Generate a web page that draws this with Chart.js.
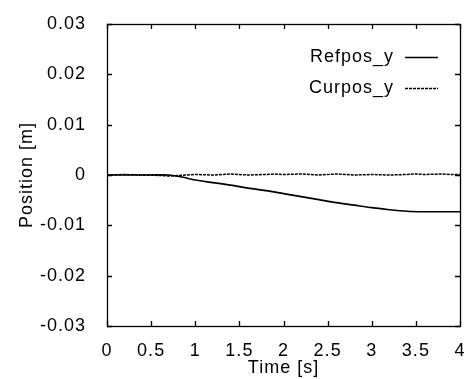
<!DOCTYPE html>
<html>
<head>
<meta charset="utf-8">
<script src="https://cdn.jsdelivr.net/npm/chart.js@4"></script>
<style>
  html, body { margin: 0; padding: 0; background: #fff; }
  canvas { display: block; }
</style>
</head>
<body>
<canvas id="line-chart" width="465" height="379"></canvas>
<script>
// data
var refTime = [0, 0.5, 0.7, 0.85, 1.0, 1.2, 1.4, 1.6, 1.8, 2.0, 2.2, 2.4, 2.6, 2.8, 3.0, 3.2, 3.4, 3.6, 3.8, 4.0];
var refPos  = [0, 0, 0, -0.0004, -0.001, -0.0015, -0.002, -0.0026, -0.0031, -0.0037, -0.0043, -0.0049, -0.0055, -0.006, -0.0065, -0.0069, -0.0072, -0.0073, -0.0073, -0.0073];

var curTime = [0, 0.2, 0.4, 0.6, 0.7, 0.8, 0.9, 1.0, 1.2, 1.4, 1.5, 1.6, 1.8, 1.9, 2.0, 2.2, 2.3, 2.4, 2.6, 2.7, 2.8, 3.0, 3.2, 3.4, 3.5, 3.6, 3.8, 3.9, 4.0];
var curPos  = [0, 0.0001, 0, -0.0001, -0.0002, -0.0001, 0, 0.0001, 0, 0.0002, 0.0001, 0, 0.0001, 0.0002, 0.0001, 0.0002, 0.0001, 0, 0.0002, 0.0001, 0, 0.0001, 0, 0.0001, 0.0002, 0.0001, 0.0002, 0.0001, 0.0001];

var xTicks = [0, 0.5, 1, 1.5, 2, 2.5, 3, 3.5, 4];
var yTicks = [-0.03, -0.02, -0.01, 0, 0.01, 0.02, 0.03];

var font = "'Liberation Sans', Arial, Helvetica, sans-serif";
var gap = '1px';

function toPoints(xs, ys) {
  return xs.map(function(x, i){ return {x: x, y: ys[i]}; });
}

// the scanned original has slightly wide lettering
var spacing = {
  id: 'spacing',
  beforeInit: function(chart){ chart.ctx.letterSpacing = gap; },
  beforeLayout: function(chart){ chart.ctx.letterSpacing = gap; },
  beforeDraw: function(chart){ chart.ctx.letterSpacing = gap; }
};

// box and inward ticks on all four sides
var frame = {
  id: 'frame',
  afterDatasetsDraw: function(chart) {
    var ctx = chart.ctx, a = chart.chartArea;
    var sx = chart.scales.x, sy = chart.scales.y;
    ctx.save();
    ctx.strokeStyle = '#000';
    ctx.lineWidth = 1.3;
    ctx.strokeRect(a.left + 0.5, a.top + 0.5, a.right - a.left, a.bottom - a.top);
    ctx.beginPath();
    xTicks.forEach(function(v){
      var px = Math.round(sx.getPixelForValue(v)) + 0.5;
      ctx.moveTo(px, a.bottom); ctx.lineTo(px, a.bottom - 5);
      ctx.moveTo(px, a.top); ctx.lineTo(px, a.top + 5);
    });
    yTicks.forEach(function(v){
      var py = Math.round(sy.getPixelForValue(v)) + 0.5;
      ctx.moveTo(a.left, py); ctx.lineTo(a.left + 5, py);
      ctx.moveTo(a.right, py); ctx.lineTo(a.right - 5, py);
    });
    ctx.stroke();
    ctx.restore();
  }
};

// gnuplot style key: label then sample line
var key = {
  id: 'key',
  afterDraw: function(chart) {
    var ctx = chart.ctx;
    ctx.save();
    ctx.letterSpacing = gap;
    ctx.font = '18px ' + font;
    ctx.fillStyle = '#000';
    ctx.textAlign = 'right';
    ctx.textBaseline = 'middle';
    chart.data.datasets.forEach(function(ds, i){
      var y = 57 + i * 31;
      ctx.fillText(ds.label, 394, y);
      ctx.beginPath();
      ctx.strokeStyle = '#000';
      ctx.lineWidth = ds.borderWidth;
      ctx.setLineDash(ds.borderDash || []);
      ctx.moveTo(405, y + 0.5); ctx.lineTo(438, y + 0.5);
      ctx.stroke();
    });
    ctx.restore();
  }
};

new Chart(document.getElementById("line-chart"), {
  type: 'line',
  data: {
    datasets: [
      {
        label: "Refpos_y",
        data: toPoints(refTime, refPos),
        borderColor: '#000',
        borderWidth: 1.7,
        pointRadius: 0,
        tension: 0.3,
        fill: false
      },
      {
        label: "Curpos_y",
        data: toPoints(curTime, curPos),
        borderColor: '#000',
        borderWidth: 1.5,
        borderDash: [3, 1],
        pointRadius: 0,
        tension: 0,
        fill: false
      }
    ]
  },
  plugins: [spacing, frame, key],
  options: {
    responsive: false,
    animation: false,
    devicePixelRatio: 1,
    layout: { padding: { top: 24, right: 5, left: 0, bottom: 0 } },
    plugins: {
      legend: { display: false },
      tooltip: { enabled: false }
    },
    scales: {
      x: {
        type: 'linear',
        min: 0, max: 4,
        afterFit: function(s){ s.height = 53; s.paddingLeft = 0; s.paddingRight = 0; },
        afterBuildTicks: function(s){ s.ticks = xTicks.map(function(v){ return {value: v}; }); },
        grid: { display: false },
        border: { display: false },
        ticks: {
          color: '#000', padding: 6, maxRotation: 0, autoSkip: false,
          font: { family: font, size: 18 },
          callback: function(v){ return String(parseFloat(v.toFixed(2))); }
        },
        title: {
          display: true, text: 'Time [s]', color: '#000',
          font: { family: font, size: 18 },
          padding: { top: 0, bottom: 0 }
        }
      },
      y: {
        min: -0.03, max: 0.03,
        afterFit: function(s){ s.width = 107; s.paddingTop = 0; s.paddingBottom = 0; },
        afterBuildTicks: function(s){ s.ticks = yTicks.map(function(v){ return {value: v}; }); },
        grid: { display: false },
        border: { display: false },
        ticks: {
          color: '#000', padding: 13, autoSkip: false,
          font: { family: font, size: 18 },
          callback: function(v){ return String(parseFloat(v.toFixed(3))); }
        },
        title: {
          display: true, text: 'Position [m]', color: '#000',
          font: { family: font, size: 18 },
          padding: { top: 16, bottom: 0 }
        }
      }
    }
  }
});
</script>
</body>
</html>
